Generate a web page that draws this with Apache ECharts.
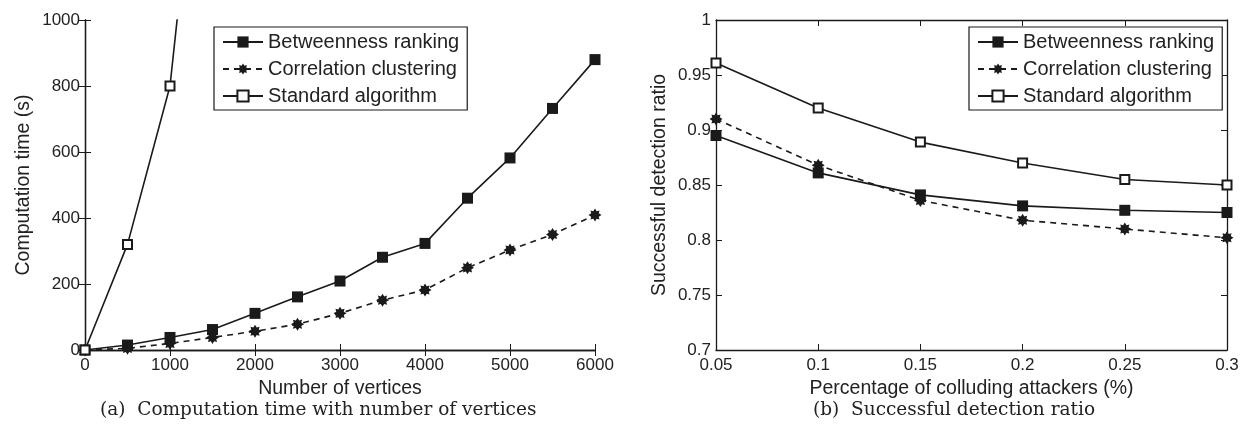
<!DOCTYPE html>
<html><head><meta charset="utf-8">
<script src="https://cdn.jsdelivr.net/npm/echarts@6/dist/echarts.min.js"></script>
<style>html,body{margin:0;padding:0;background:#fff}#c{width:1252px;height:440px}</style>
</head><body><div id="c"></div>
<script>
// ---- data ----
const seriesNames = ['Betweenness ranking', 'Correlation clustering', 'Standard algorithm'];
const vertices = [0, 500, 1000, 1500, 2000, 2500, 3000, 3500, 4000, 4500, 5000, 5500, 6000];
const betweennessTime = [0, 15, 38, 62, 111, 161, 209, 281, 323, 460, 582, 732, 880];
const correlationTime = [0, 5, 20, 38, 57, 78, 111, 151, 182, 249, 303, 350, 409];
const standardVertices = [0, 500, 1000, 1500];
const standardTime = [0, 320, 800, 2000];
const attackers = [0.05, 0.1, 0.15, 0.2, 0.25, 0.3];
const betweennessRatio = [0.895, 0.861, 0.841, 0.831, 0.827, 0.825];
const correlationRatio = [0.910, 0.868, 0.836, 0.818, 0.810, 0.802];
const standardRatio = [0.961, 0.920, 0.889, 0.870, 0.855, 0.850];
const captionA = '(a)  Computation time with number of vertices';
const captionB = '(b)  Successful detection ratio';

const zip = (xs, ys) => xs.map((x, i) => [x, ys[i]]);
const FONT = "'Liberation Sans', Arial, Helvetica, sans-serif";
const INK = '#1a1a1a';
const starPath = 'path://M10,5 L7.9,6.3 L8.5,8.5 L6.3,7.9 L5,10 L3.7,7.9 L1.5,8.5 L2.1,6.3 L0,5 L2.1,3.7 L1.5,1.5 L3.7,2.1 L5,0 L6.3,2.1 L8.5,1.5 L7.9,3.7 Z';

const styles = [
  { symbol: 'rect', symbolSize: 11, itemStyle: { color: INK }, lineStyle: { color: INK, width: 1.6, type: 'solid' } },
  { symbol: starPath, symbolSize: 13, itemStyle: { color: INK }, lineStyle: { color: INK, width: 1.6, type: [6, 5] } },
  { symbol: 'rect', symbolSize: 9, itemStyle: { color: '#fff', borderColor: INK, borderWidth: 2 }, lineStyle: { color: INK, width: 1.6, type: 'solid' } }
];

function mkSeries(name, idx, data, gi) {
  const s = styles[idx];
  return {
    type: 'line', name, xAxisIndex: gi * 2, yAxisIndex: gi * 2, data,
    symbol: s.symbol, symbolSize: s.symbolSize, showAllSymbol: true,
    itemStyle: s.itemStyle, lineStyle: s.lineStyle, clip: true, animation: false,
    emphasis: { disabled: true }
  };
}

const plain = v => String(+v.toFixed(4));
const axisLine = { show: true, lineStyle: { color: INK, width: 1.3 } };
const labelStyle = { color: '#222', fontFamily: FONT, fontSize: 17, formatter: plain };
const nameStyle = { color: '#222', fontFamily: FONT, fontSize: 19.5 };

function xAxes(gi, min, max, interval, name) {
  return [
    { type: 'value', gridIndex: gi, min, max, interval, position: 'bottom',
      axisLine, axisTick: { inside: true, length: 6, lineStyle: { color: INK } },
      axisLabel: { ...labelStyle, margin: 7 }, splitLine: { show: false },
      name, nameLocation: 'middle', nameGap: 23, nameTextStyle: nameStyle },
    { type: 'value', gridIndex: gi, min, max, interval, position: 'top',
      axisLine, axisTick: { inside: true, length: 6, lineStyle: { color: INK } },
      axisLabel: { show: false }, splitLine: { show: false } }
  ];
}
function yAxes(gi, min, max, interval, name, gap) {
  return [
    { type: 'value', gridIndex: gi, min, max, interval, position: 'left',
      axisLine, axisTick: { inside: true, length: 6, lineStyle: { color: INK } },
      axisLabel: { ...labelStyle, margin: 5 }, splitLine: { show: false },
      name, nameLocation: 'middle', nameGap: gap, nameRotate: 90, nameTextStyle: nameStyle },
    { type: 'value', gridIndex: gi, min, max, interval, position: 'right',
      axisLine, axisTick: { inside: true, length: 6, lineStyle: { color: INK } },
      axisLabel: { show: false }, splitLine: { show: false } }
  ];
}

const legendBase = {
  orient: 'vertical', data: seriesNames, selectedMode: false,
  backgroundColor: '#fff', borderColor: INK, borderWidth: 1.2,
  padding: [5, 8, 4, 8], itemGap: 7, itemWidth: 40, itemHeight: 14,
  textStyle: { fontFamily: FONT, fontSize: 20, color: '#222' }
};

const option = {
  backgroundColor: '#fff',
  animation: false,
  grid: [
    { left: 85, right: 1252 - 595, top: 20, bottom: 90 },
    { left: 716, right: 1252 - 1227, top: 20, bottom: 90 }
  ],
  xAxis: [...xAxes(0, 0, 6000, 1000, 'Number of vertices'), ...xAxes(1, 0.05, 0.3, 0.05, 'Percentage of colluding attackers (%)')],
  yAxis: [...yAxes(0, 0, 1000, 200, 'Computation time (s)', 51), ...yAxes(1, 0.7, 1, 0.05, 'Successful detection ratio', 46)],
  legend: [
    { ...legendBase, left: 214, top: 27 },
    { ...legendBase, left: 969, top: 27 }
  ],
  series: [
    mkSeries(seriesNames[0], 0, zip(vertices, betweennessTime), 0),
    mkSeries(seriesNames[1], 1, zip(vertices, correlationTime), 0),
    mkSeries(seriesNames[2], 2, zip(standardVertices, standardTime), 0),
    mkSeries(seriesNames[0], 0, zip(attackers, betweennessRatio), 1),
    mkSeries(seriesNames[1], 1, zip(attackers, correlationRatio), 1),
    mkSeries(seriesNames[2], 2, zip(attackers, standardRatio), 1)
  ],
  graphic: [
    { type: 'text', left: 100, top: 401, style: { text: captionA, font: "18.5px 'DejaVu Serif', 'Liberation Serif', serif", fill: '#222' } },
    { type: 'text', left: 813, top: 401, style: { text: captionB, font: "18.5px 'DejaVu Serif', 'Liberation Serif', serif", fill: '#222' } }
  ]
};

const chart = echarts.init(document.getElementById('c'), null, { renderer: 'canvas' });
chart.setOption(option);
</script>
</body></html>
